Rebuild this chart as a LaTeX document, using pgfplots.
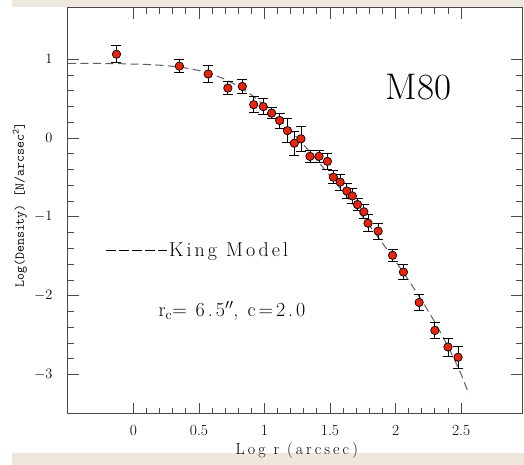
\documentclass[border=0pt]{standalone}
\usepackage{fontspec}
\newfontfamily\lsfont{Latin Modern Roman}[LetterSpace=19]
\newfontfamily\lsfontb{Latin Modern Roman}[LetterSpace=15]
\usepackage{pgfplots}
\pgfplotsset{compat=1.18}
\definecolor{ptred}{HTML}{E8240F}
\definecolor{beige}{HTML}{EEE8DC}
\definecolor{framegray}{HTML}{4A4A4A}
\definecolor{kinggray}{HTML}{606060}

\begin{document}
\begin{tikzpicture}[x=1pt,y=1pt]
% page background and the beige bands of the screenshot
\fill[white] (-68,-51) rectangle (456,414);
\fill[beige] (-56,407) rectangle (456,414);
\fill[beige] (-56,-51) rectangle (456,-39);
\begin{axis}[
  scale only axis,
  width=454pt, height=406pt,
  xmin=-0.5, xmax=2.965,
  ymin=-3.5, ymax=1.65,
  axis line style={draw=framegray, line width=1pt},
  tick style={draw=framegray, line width=0.9pt},
  tick align=inside,
  xtick pos=both, ytick pos=both,
  xtick={0,0.5,1,1.5,2,2.5},
  ytick={-3,-2,-1,0,1},
  minor x tick num=4,
  minor y tick num=4,
  major tick length=11pt,
  minor tick length=6pt,
  xticklabels={0,0.5,1,1.5,2,2.5},
  xticklabel style={font=\fontsize{15.5}{17}\selectfont, yshift=-8pt},
  yticklabel style={font=\fontsize{15.5}{17}\selectfont, xshift=-12pt},
  xlabel={Log r (arcsec)},
  xlabel style={font=\lsfont\fontsize{16}{18}\selectfont,
                at={(axis description cs:0.504,0)}, anchor=center, yshift=-37pt},
  ylabel={Log(Density) [N/arcsec\textsuperscript{2}]},
  ylabel style={font=\ttfamily\fontsize{13.5}{15}\selectfont,
                at={(axis description cs:-0.106,0.515)}, anchor=center},
  legend style={at={(axis cs:-0.215,-1.42)}, anchor=west, draw=none, fill=none,
                inner sep=0pt, font=\lsfontb\fontsize{20}{22}\selectfont},
  legend image code/.code={\draw[#1] (0pt,0pt) -- (49pt,0pt); \path (0pt,0pt) -- (61pt,0pt);},
  clip=false,
]
% King model, c = 2.0, r_c = 6.5 arcsec
\addplot[kinggray, line width=1pt, dash pattern=on 8pt off 4.5pt, forget plot] coordinates {
  (-0.5,0.9489) (-0.3,0.9474) (-0.1,0.9435) (0.1,0.9338) (0.2,0.9246)
  (0.3,0.9105) (0.4,0.8889) (0.5,0.8567) (0.6,0.8101) (0.7,0.7451)
  (0.8,0.6582) (0.9,0.5481) (1.0,0.4154) (1.1,0.2626) (1.2,0.0938)
  (1.3,-0.0878) (1.4,-0.2790) (1.5,-0.4777) (1.6,-0.6826) (1.7,-0.8931)
  (1.8,-1.1093) (1.9,-1.3320) (2.0,-1.5627) (2.1,-1.8039) (2.2,-2.0592)
  (2.3,-2.3347) (2.4,-2.6403) (2.45,-2.8097) (2.5,-2.9948) (2.56,-3.246)
};
\addlegendimage{black, line width=0.7pt, dash pattern=on 10pt off 3pt}
\addlegendentry{King Model}
% observed profile
\addplot[only marks, mark=*, mark size=4.2pt, forget plot,
         mark options={fill=ptred, draw=black, line width=0.7pt},
         error bars/.cd, y dir=both, y explicit,
         error bar style={black, line width=0.8pt},
         error mark=-,
         error mark options={rotate=90, black, line width=0.8pt, mark size=5pt}]
  table[x=x, y=y, y error=e] {
x      y       e
-0.13  1.064   0.11
0.35   0.913   0.085
0.57   0.813   0.11
0.72   0.634   0.08
0.83   0.655   0.09
0.917  0.424   0.10
0.99   0.399   0.105
1.054  0.316   0.07
1.115  0.223   0.095
1.175  0.094   0.155
1.227  -0.065  0.15
1.278  -0.01   0.16
1.347  -0.232  0.08
1.416  -0.232  0.08
1.48   -0.295  0.10
1.525  -0.496  0.085
1.577  -0.558  0.10
1.628  -0.671  0.10
1.67   -0.734  0.10
1.71   -0.843  0.08
1.758  -0.935  0.09
1.79   -1.08   0.11
1.867  -1.18   0.10
1.977  -1.487  0.08
2.06   -1.70   0.095
2.18   -2.085  0.10
2.30   -2.44   0.10
2.40   -2.65   0.115
2.477  -2.78   0.14
};
\node[font=\fontsize{37}{40}\selectfont] at (axis cs:2.176,0.64) {M80};
\node[anchor=base west, inner sep=0pt, font=\lsfontb\fontsize{20}{22}\selectfont]
  at (axis cs:0.19,-2.265) {r$_{\mathrm{c}}$= 6.5$''$, c=2.0};
\end{axis}
\pgfresetboundingbox
\path (-68,-51) rectangle (456,414);
\end{tikzpicture}
\end{document}
